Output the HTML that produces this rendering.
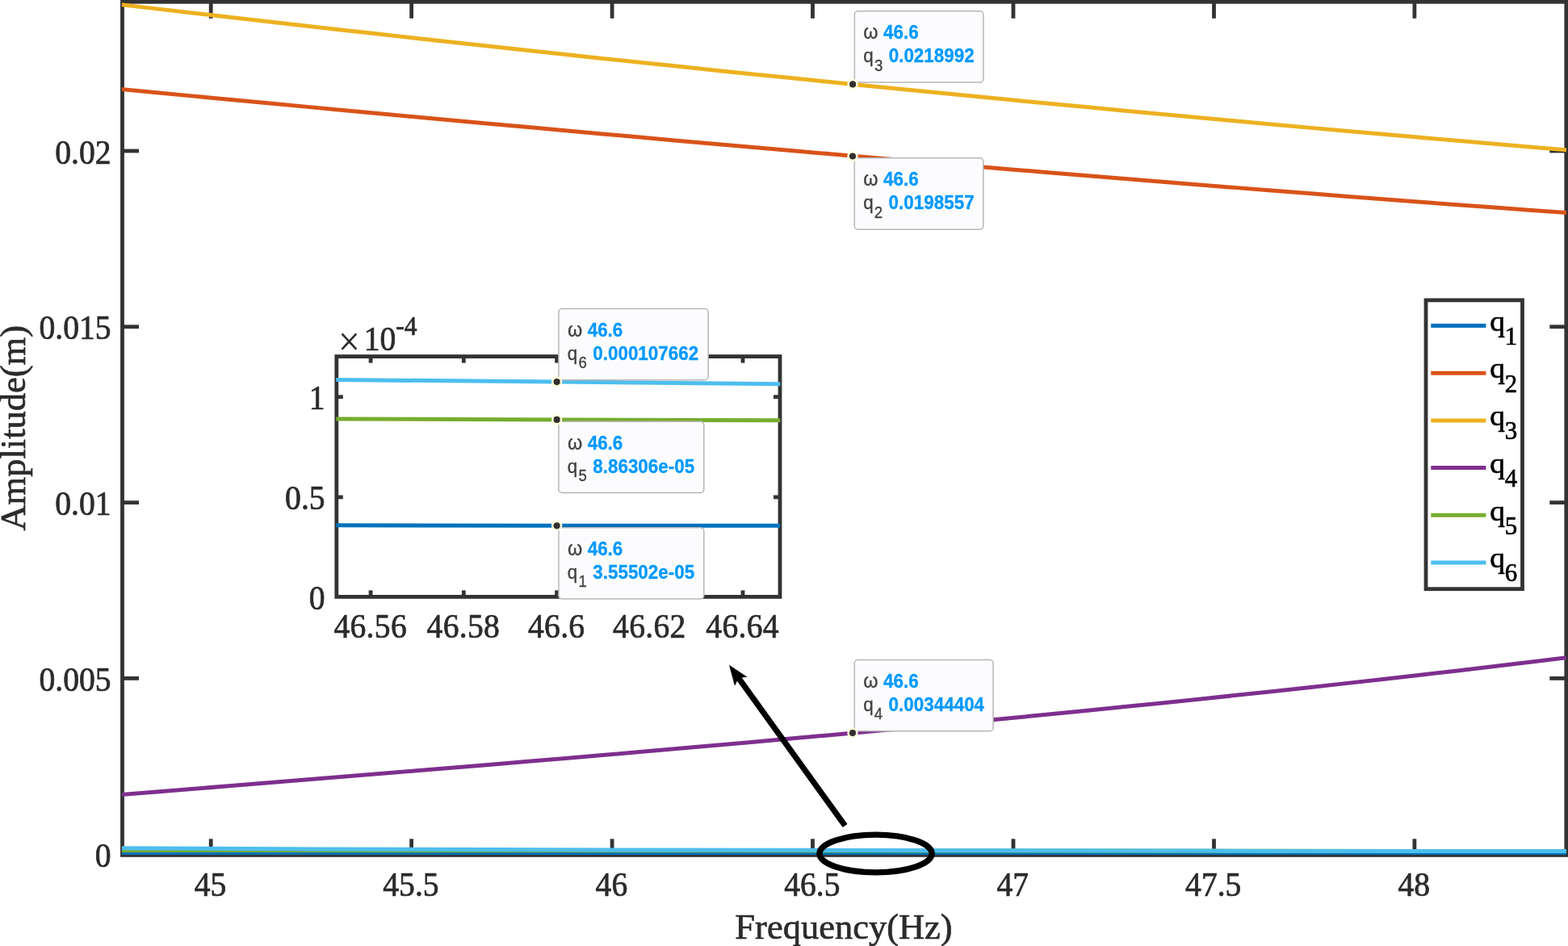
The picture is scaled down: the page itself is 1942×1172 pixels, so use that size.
<!DOCTYPE html>
<html lang="en"><head><meta charset="utf-8"><title>Amplitude vs Frequency</title>
<style>
html,body{margin:0;padding:0;background:#fff;}
body{width:1942px;height:1172px;overflow:hidden;position:relative;}
svg{display:block;position:absolute;left:0;top:0;}
.tk{font-family:"Liberation Serif","Times New Roman",serif;font-size:39.6px;fill:#2B2B2B;stroke:#2B2B2B;stroke-width:0.7px;}
.lb{font-family:"Liberation Serif","Times New Roman",serif;font-size:44.5px;fill:#2B2B2B;stroke:#2B2B2B;stroke-width:0.7px;}
.lg{font-family:"Liberation Serif","Times New Roman",serif;font-size:39.6px;fill:#000;stroke:#000;stroke-width:0.7px;}
.dt{font-family:"Liberation Sans",Arial,sans-serif;font-size:22.45px;fill:#404040;stroke:#404040;stroke-width:0.3px;}
.dv{font-weight:bold;fill:#0099FF;stroke:#0099FF;stroke-width:0.3px;}
</style></head><body>
<svg width="1942" height="1172" viewBox="0 0 1942 1172" role="img" aria-label="Amplitude versus frequency plot with inset zoom, legend and data tips">
<rect x="0" y="0" width="1942" height="1172" fill="#ffffff"/>
<defs><clipPath id="mc"><rect x="150.9" y="2" width="1789.1" height="1057.2"/></clipPath>
<clipPath id="ic"><rect x="416.3" y="441" width="550.0" height="298.4"/></clipPath></defs>
<g stroke="#333333" stroke-width="4.8" fill="none" stroke-linecap="butt">
<rect x="151.5" y="2.3" width="1788.3" height="1057.1"/>
<line x1="261.2" y1="1059.4" x2="261.2" y2="1039.3"/>
<line x1="261.2" y1="2.3" x2="261.2" y2="22.8"/>
<line x1="509.6" y1="1059.4" x2="509.6" y2="1039.3"/>
<line x1="509.6" y1="2.3" x2="509.6" y2="22.8"/>
<line x1="758.1" y1="1059.4" x2="758.1" y2="1039.3"/>
<line x1="758.1" y1="2.3" x2="758.1" y2="22.8"/>
<line x1="1006.5" y1="1059.4" x2="1006.5" y2="1039.3"/>
<line x1="1006.5" y1="2.3" x2="1006.5" y2="22.8"/>
<line x1="1255.0" y1="1059.4" x2="1255.0" y2="1039.3"/>
<line x1="1255.0" y1="2.3" x2="1255.0" y2="22.8"/>
<line x1="1503.5" y1="1059.4" x2="1503.5" y2="1039.3"/>
<line x1="1503.5" y1="2.3" x2="1503.5" y2="22.8"/>
<line x1="1751.9" y1="1059.4" x2="1751.9" y2="1039.3"/>
<line x1="1751.9" y1="2.3" x2="1751.9" y2="22.8"/>
<line x1="151.5" y1="840.4" x2="172.0" y2="840.4"/>
<line x1="1939.8" y1="840.4" x2="1919.3" y2="840.4"/>
<line x1="151.5" y1="622.6" x2="172.0" y2="622.6"/>
<line x1="1939.8" y1="622.6" x2="1919.3" y2="622.6"/>
<line x1="151.5" y1="404.8" x2="172.0" y2="404.8"/>
<line x1="1939.8" y1="404.8" x2="1919.3" y2="404.8"/>
<line x1="151.5" y1="187.0" x2="172.0" y2="187.0"/>
<line x1="1939.8" y1="187.0" x2="1919.3" y2="187.0"/>
</g>
<text class="tk" text-anchor="middle" transform="translate(260.50 1109.90) scale(1 1.055)">45</text>
<text class="tk" text-anchor="middle" transform="translate(508.95 1109.90) scale(1 1.055)">45.5</text>
<text class="tk" text-anchor="middle" transform="translate(757.40 1109.90) scale(1 1.055)">46</text>
<text class="tk" text-anchor="middle" transform="translate(1005.85 1109.90) scale(1 1.055)">46.5</text>
<text class="tk" text-anchor="middle" transform="translate(1254.30 1109.90) scale(1 1.055)">47</text>
<text class="tk" text-anchor="middle" transform="translate(1502.75 1109.90) scale(1 1.055)">47.5</text>
<text class="tk" text-anchor="middle" transform="translate(1751.20 1109.90) scale(1 1.055)">48</text>
<text class="tk" text-anchor="end" transform="translate(137.60 1073.80) scale(1 1.055)">0</text>
<text class="tk" text-anchor="end" transform="translate(137.60 856.00) scale(1 1.055)">0.005</text>
<text class="tk" text-anchor="end" transform="translate(137.60 638.20) scale(1 1.055)">0.01</text>
<text class="tk" text-anchor="end" transform="translate(137.60 420.40) scale(1 1.055)">0.015</text>
<text class="tk" text-anchor="end" transform="translate(137.60 202.60) scale(1 1.055)">0.02</text>
<text class="lb" text-anchor="middle" transform="translate(1045.00 1162.60) scale(1 1.015)">Frequency(Hz)</text>
<text class="lb" text-anchor="middle" transform="translate(31.4 530.3) rotate(-90) scale(1 1.015)">Amplitude(m)</text>
<g clip-path="url(#mc)" fill="none" stroke-width="5.0" stroke-linejoin="round">
<path stroke="#0072BD" d="M148 1056.7 L1943 1056.7"/>
<path stroke="#D95319" d="M148.0 110.36 L194.0 114.75 L240.1 119.12 L286.1 123.47 L332.1 127.81 L378.1 132.12 L424.2 136.42 L470.2 140.70 L516.2 144.96 L562.2 149.20 L608.3 153.41 L654.3 157.61 L700.3 161.78 L746.3 165.93 L792.4 170.06 L838.4 174.16 L884.4 178.23 L930.4 182.29 L976.5 186.31 L1022.5 190.31 L1068.5 194.28 L1114.5 198.23 L1160.6 202.14 L1206.6 206.03 L1252.6 209.89 L1298.6 213.71 L1344.7 217.51 L1390.7 221.28 L1436.7 225.01 L1482.7 228.71 L1528.8 232.38 L1574.8 236.01 L1620.8 239.61 L1666.8 243.18 L1712.9 246.71 L1758.9 250.20 L1804.9 253.66 L1850.9 257.08 L1897.0 260.46 L1943.0 263.80"/>
<path stroke="#EDB120" d="M148.0 5.47 L194.0 10.86 L240.1 16.20 L286.1 21.51 L332.1 26.78 L378.1 32.01 L424.2 37.20 L470.2 42.34 L516.2 47.45 L562.2 52.52 L608.3 57.55 L654.3 62.54 L700.3 67.49 L746.3 72.40 L792.4 77.27 L838.4 82.10 L884.4 86.89 L930.4 91.64 L976.5 96.35 L1022.5 101.03 L1068.5 105.66 L1114.5 110.25 L1160.6 114.80 L1206.6 119.31 L1252.6 123.79 L1298.6 128.22 L1344.7 132.61 L1390.7 136.96 L1436.7 141.28 L1482.7 145.55 L1528.8 149.78 L1574.8 153.98 L1620.8 158.13 L1666.8 162.25 L1712.9 166.32 L1758.9 170.36 L1804.9 174.35 L1850.9 178.31 L1897.0 182.22 L1943.0 186.10"/>
<path stroke="#7E2F8E" d="M148.0 984.62 L194.0 980.94 L240.1 977.25 L286.1 973.54 L332.1 969.83 L378.1 966.10 L424.2 962.36 L470.2 958.60 L516.2 954.81 L562.2 951.01 L608.3 947.18 L654.3 943.32 L700.3 939.43 L746.3 935.50 L792.4 931.55 L838.4 927.55 L884.4 923.52 L930.4 919.44 L976.5 915.32 L1022.5 911.15 L1068.5 906.94 L1114.5 902.67 L1160.6 898.35 L1206.6 893.97 L1252.6 889.54 L1298.6 885.04 L1344.7 880.48 L1390.7 875.86 L1436.7 871.16 L1482.7 866.40 L1528.8 861.57 L1574.8 856.66 L1620.8 851.67 L1666.8 846.61 L1712.9 841.46 L1758.9 836.23 L1804.9 830.91 L1850.9 825.50 L1897.0 820.01 L1943.0 814.42"/>
<path stroke="#77AC30" d="M148 1053.5 L1056 1053.9 L1943 1054.5"/>
<path stroke="#4DBEEE" d="M148 1050.8 L400 1051.9 L600 1052.6 L1056 1053.4 L1500 1054.1 L1943 1054.6"/>
</g>
<rect x="416.8" y="441.6" width="549.2" height="297.8" fill="#fff"/>
<g stroke="#333333" stroke-width="4.8" fill="none">
<rect x="416.8" y="441.6" width="549.2" height="297.8"/>
<line x1="459.1" y1="739.4" x2="459.1" y2="731.4"/>
<line x1="459.1" y1="441.6" x2="459.1" y2="449.6"/>
<line x1="574.3" y1="739.4" x2="574.3" y2="731.4"/>
<line x1="574.3" y1="441.6" x2="574.3" y2="449.6"/>
<line x1="689.6" y1="739.4" x2="689.6" y2="731.4"/>
<line x1="689.6" y1="441.6" x2="689.6" y2="449.6"/>
<line x1="804.8" y1="739.4" x2="804.8" y2="731.4"/>
<line x1="804.8" y1="441.6" x2="804.8" y2="449.6"/>
<line x1="920.0" y1="739.4" x2="920.0" y2="731.4"/>
<line x1="920.0" y1="441.6" x2="920.0" y2="449.6"/>
<line x1="416.8" y1="615.9" x2="424.8" y2="615.9"/>
<line x1="966.0" y1="615.9" x2="958.0" y2="615.9"/>
<line x1="416.8" y1="491.7" x2="424.8" y2="491.7"/>
<line x1="966.0" y1="491.7" x2="958.0" y2="491.7"/>
</g>
<text class="tk" text-anchor="middle" transform="translate(458.70 789.70) scale(1 1.055)" letter-spacing="0.3">46.56</text>
<text class="tk" text-anchor="middle" transform="translate(573.90 789.70) scale(1 1.055)" letter-spacing="0.3">46.58</text>
<text class="tk" text-anchor="middle" transform="translate(689.20 789.70) scale(1 1.055)" letter-spacing="0.3">46.6</text>
<text class="tk" text-anchor="middle" transform="translate(804.40 789.70) scale(1 1.055)" letter-spacing="0.3">46.62</text>
<text class="tk" text-anchor="middle" transform="translate(919.60 789.70) scale(1 1.055)" letter-spacing="0.3">46.64</text>
<text class="tk" text-anchor="end" transform="translate(402.60 754.50) scale(1 1.055)">0</text>
<text class="tk" text-anchor="end" transform="translate(402.60 631.00) scale(1 1.055)">0.5</text>
<text class="tk" text-anchor="end" transform="translate(402.60 506.80) scale(1 1.055)">1</text>
<text class="tk" text-anchor="start" transform="translate(419.00 433.70) scale(1 1.055)"><tspan style="font-size:47.5px;stroke-width:0.2px" dy="5.6">×</tspan><tspan dy="-5.6" dx="5.0">10</tspan><tspan dy="-18.2" style="font-size:31.5px">-4</tspan></text>
<g clip-path="url(#ic)" fill="none" stroke-width="5.0">
<path stroke="#0072BD" d="M414 650.7 L689.66 651.3 L968 651.3"/>
<path stroke="#77AC30" d="M414 519.0 L689.66 519.9 L968 520.8"/>
<path stroke="#4DBEEE" d="M414 470.5 L689.66 473.06 L968 475.65"/>
</g>
<ellipse cx="1084.55" cy="1057.5" rx="69.6" ry="23.4" fill="none" stroke="#000" stroke-width="7.3"/>
<line x1="913.54" y1="838.39" x2="1046.60" y2="1023.00" stroke="#000" stroke-width="7.2"/>
<path d="M903.60 824.60 L924.56 838.46 L914.42 839.61 L910.12 848.87 Z" fill="#000" stroke="#000" stroke-width="0.8" stroke-linejoin="round"/>
<rect x="1766.0" y="371.9" width="119.5" height="357.8" fill="#fff" stroke="#333333" stroke-width="4.8"/>
<line x1="1772.3" y1="403.5" x2="1840.4" y2="403.5" stroke="#0072BD" stroke-width="5.0"/>
<text class="lg" text-anchor="start" transform="translate(1845.20 409.70) scale(1 0.943)" style="font-size:37.2px">q</text>
<text class="lg" text-anchor="middle" transform="translate(1871.50 426.80) scale(1 1.000)" style="font-size:30.8px">1</text>
<line x1="1772.3" y1="462.2" x2="1840.4" y2="462.2" stroke="#D95319" stroke-width="5.0"/>
<text class="lg" text-anchor="start" transform="translate(1845.20 468.40) scale(1 0.943)" style="font-size:37.2px">q</text>
<text class="lg" text-anchor="middle" transform="translate(1871.50 485.50) scale(1 1.000)" style="font-size:30.8px">2</text>
<line x1="1772.3" y1="520.9" x2="1840.4" y2="520.9" stroke="#EDB120" stroke-width="5.0"/>
<text class="lg" text-anchor="start" transform="translate(1845.20 527.10) scale(1 0.943)" style="font-size:37.2px">q</text>
<text class="lg" text-anchor="middle" transform="translate(1871.50 544.20) scale(1 1.000)" style="font-size:30.8px">3</text>
<line x1="1772.3" y1="579.6" x2="1840.4" y2="579.6" stroke="#7E2F8E" stroke-width="5.0"/>
<text class="lg" text-anchor="start" transform="translate(1845.20 585.80) scale(1 0.943)" style="font-size:37.2px">q</text>
<text class="lg" text-anchor="middle" transform="translate(1871.50 602.90) scale(1 1.000)" style="font-size:30.8px">4</text>
<line x1="1772.3" y1="638.3" x2="1840.4" y2="638.3" stroke="#77AC30" stroke-width="5.0"/>
<text class="lg" text-anchor="start" transform="translate(1845.20 644.50) scale(1 0.943)" style="font-size:37.2px">q</text>
<text class="lg" text-anchor="middle" transform="translate(1871.50 661.60) scale(1 1.000)" style="font-size:30.8px">5</text>
<line x1="1772.3" y1="697.0" x2="1840.4" y2="697.0" stroke="#4DBEEE" stroke-width="5.0"/>
<text class="lg" text-anchor="start" transform="translate(1845.20 703.20) scale(1 0.943)" style="font-size:37.2px">q</text>
<text class="lg" text-anchor="middle" transform="translate(1871.50 720.30) scale(1 1.000)" style="font-size:30.8px">6</text>
<rect x="1058.35" y="13.77" width="159.60" height="88.35" rx="4.3" ry="4.3" fill="#FCFCFE" stroke="#B7B7B7" stroke-width="1.5"/>
<text class="dt" transform="translate(1069.35 48.27) scale(1 1.100)"><tspan style="font-size:23.4px">ω</tspan><tspan class="dv" dx="6.5">46.6</tspan></text>
<text class="dt" transform="translate(1069.25 77.07) scale(1 1.100)">q<tspan dy="9.5" dx="1.2" style="font-size:18.6px">3</tspan><tspan dy="-9.5" dx="7.4" class="dv">0.0218992</tspan></text>
<circle cx="1056.10" cy="104.40" r="6.7" fill="#FFFFDC"/>
<circle cx="1056.10" cy="104.40" r="4.1" fill="#303030"/>
<rect x="1058.25" y="195.85" width="159.60" height="88.35" rx="4.3" ry="4.3" fill="#FCFCFE" stroke="#B7B7B7" stroke-width="1.5"/>
<text class="dt" transform="translate(1069.25 230.35) scale(1 1.100)"><tspan style="font-size:23.4px">ω</tspan><tspan class="dv" dx="6.5">46.6</tspan></text>
<text class="dt" transform="translate(1069.15 259.15) scale(1 1.100)">q<tspan dy="9.5" dx="1.2" style="font-size:18.6px">2</tspan><tspan dy="-9.5" dx="7.4" class="dv">0.0198557</tspan></text>
<circle cx="1056.00" cy="193.50" r="6.7" fill="#FFFFDC"/>
<circle cx="1056.00" cy="193.50" r="4.1" fill="#303030"/>
<rect x="1058.25" y="817.47" width="171.85" height="88.35" rx="4.3" ry="4.3" fill="#FCFCFE" stroke="#B7B7B7" stroke-width="1.5"/>
<text class="dt" transform="translate(1069.25 851.97) scale(1 1.100)"><tspan style="font-size:23.4px">ω</tspan><tspan class="dv" dx="6.5">46.6</tspan></text>
<text class="dt" transform="translate(1069.15 880.77) scale(1 1.100)">q<tspan dy="9.5" dx="1.2" style="font-size:18.6px">4</tspan><tspan dy="-9.5" dx="7.4" class="dv">0.00344404</tspan></text>
<circle cx="1056.00" cy="908.10" r="6.7" fill="#FFFFDC"/>
<circle cx="1056.00" cy="908.10" r="4.1" fill="#303030"/>
<rect x="691.91" y="382.43" width="185.20" height="88.35" rx="4.3" ry="4.3" fill="#FCFCFE" stroke="#B7B7B7" stroke-width="1.5"/>
<text class="dt" transform="translate(702.91 416.93) scale(1 1.100)"><tspan style="font-size:23.4px">ω</tspan><tspan class="dv" dx="6.5">46.6</tspan></text>
<text class="dt" transform="translate(702.81 445.73) scale(1 1.100)">q<tspan dy="9.5" dx="1.2" style="font-size:18.6px">6</tspan><tspan dy="-9.5" dx="7.4" class="dv">0.000107662</tspan></text>
<circle cx="689.66" cy="473.06" r="6.7" fill="#FFFFDC"/>
<circle cx="689.66" cy="473.06" r="4.1" fill="#303030"/>
<rect x="691.91" y="522.25" width="179.90" height="88.35" rx="4.3" ry="4.3" fill="#FCFCFE" stroke="#B7B7B7" stroke-width="1.5"/>
<text class="dt" transform="translate(702.91 556.75) scale(1 1.100)"><tspan style="font-size:23.4px">ω</tspan><tspan class="dv" dx="6.5">46.6</tspan></text>
<text class="dt" transform="translate(702.81 585.55) scale(1 1.100)">q<tspan dy="9.5" dx="1.2" style="font-size:18.6px">5</tspan><tspan dy="-9.5" dx="7.4" class="dv">8.86306e-05</tspan></text>
<circle cx="689.66" cy="519.90" r="6.7" fill="#FFFFDC"/>
<circle cx="689.66" cy="519.90" r="4.1" fill="#303030"/>
<rect x="691.91" y="653.65" width="179.90" height="88.35" rx="4.3" ry="4.3" fill="#FCFCFE" stroke="#B7B7B7" stroke-width="1.5"/>
<text class="dt" transform="translate(702.91 688.15) scale(1 1.100)"><tspan style="font-size:23.4px">ω</tspan><tspan class="dv" dx="6.5">46.6</tspan></text>
<text class="dt" transform="translate(702.81 716.95) scale(1 1.100)">q<tspan dy="9.5" dx="1.2" style="font-size:18.6px">1</tspan><tspan dy="-9.5" dx="7.4" class="dv">3.55502e-05</tspan></text>
<circle cx="689.66" cy="651.30" r="6.7" fill="#FFFFDC"/>
<circle cx="689.66" cy="651.30" r="4.1" fill="#303030"/>
</svg>
</body></html>
